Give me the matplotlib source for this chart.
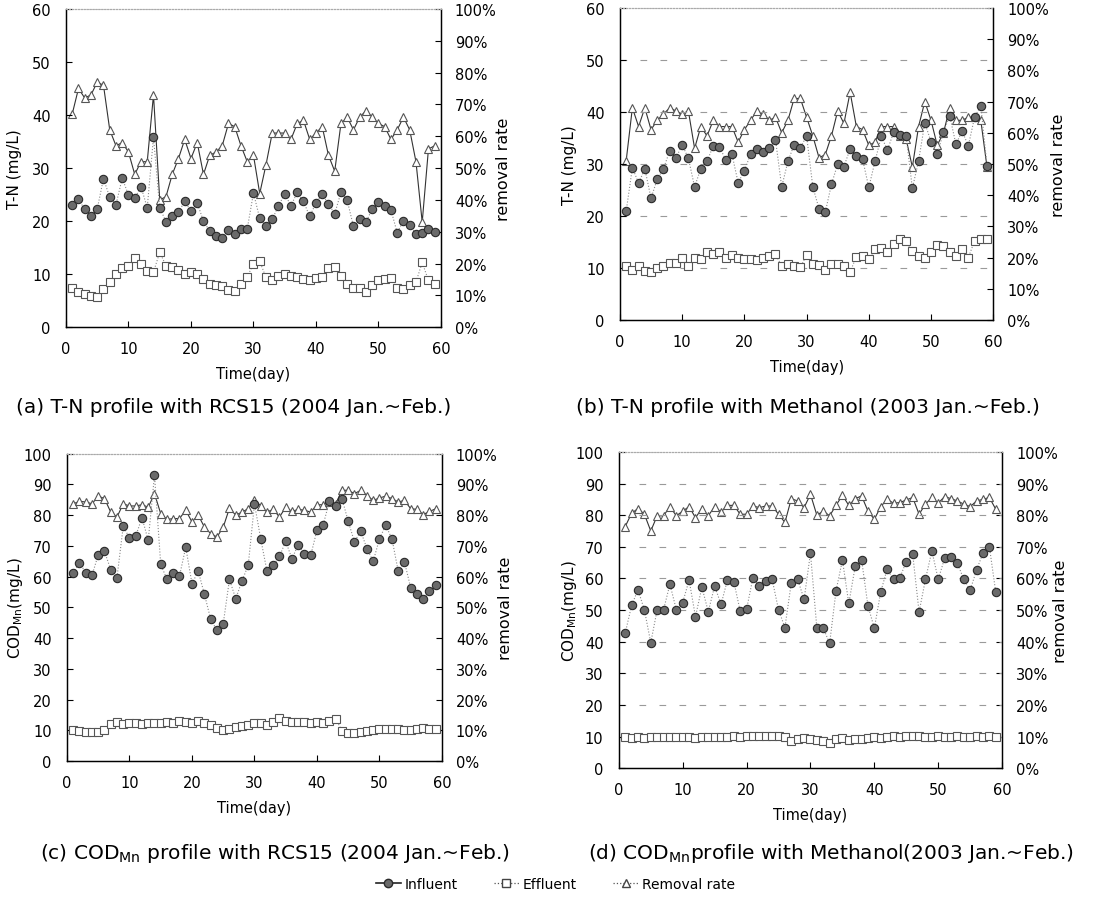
import numpy as np
import matplotlib.pyplot as plt
from matplotlib.lines import Line2D
from matplotlib.ticker import FuncFormatter

plt.rcParams['font.family'] = ['DejaVu Sans']
plt.rcParams['mathtext.fontset'] = 'dejavusans'

days = np.arange(1, 60)

# (a) T-N, RCS15
tn_rcs_inf = [23.0, 24.1, 22.2, 21.0, 22.3, 28.0, 24.5, 23.1, 28.1, 24.9,
              24.3, 26.5, 22.5, 35.8, 22.5, 19.9, 21.0, 21.7, 23.7, 21.9,
              23.4, 20.0, 18.1, 17.1, 16.8, 18.4, 17.5, 18.5, 18.5, 25.3,
              20.5, 19.0, 20.3, 22.9, 25.1, 22.9, 25.4, 23.7, 20.9, 23.4,
              25.1, 23.2, 21.4, 25.4, 23.9, 19.0, 20.3, 19.8, 22.3, 23.6,
              22.8, 22.1, 17.8, 20.1, 19.3, 17.6, 17.7, 18.5, 17.9]
tn_rcs_eff = [7.3, 6.6, 6.3, 5.8, 5.6, 7.2, 8.5, 10.0, 11.1, 11.6,
              13.0, 11.9, 10.5, 10.4, 14.1, 11.6, 11.3, 10.7, 10.1, 10.4,
              10.1, 9.1, 8.2, 8.0, 7.7, 7.0, 6.9, 8.2, 9.5, 11.9,
              12.4, 9.4, 8.8, 9.6, 10.1, 9.7, 9.4, 9.1, 8.9, 9.2,
              9.4, 11.1, 11.3, 9.6, 8.2, 7.3, 7.3, 6.6, 7.9, 8.8,
              9.1, 9.2, 7.3, 7.1, 7.9, 8.5, 12.2, 8.8, 8.2]
tn_rcs_rem = [67, 75, 72, 73, 77, 76, 62, 57, 58, 55,
              48, 52, 52, 73, 40, 41, 48, 53, 59, 53,
              58, 48, 54, 55, 57, 64, 63, 57, 52, 54,
              42, 51, 61, 61, 61, 59, 64, 65, 59, 61,
              63, 54, 49, 64, 66, 62, 66, 68, 66, 64,
              63, 59, 62, 66, 62, 52, 33, 56, 57]

# (b) T-N, Methanol
tn_met_inf = [20.9, 29.3, 26.3, 29.1, 23.4, 27.1, 29.1, 32.5, 31.1, 33.7,
              31.1, 25.6, 29.1, 30.5, 33.5, 33.3, 30.8, 31.9, 26.4, 28.7,
              31.9, 32.9, 32.3, 33.0, 34.7, 25.6, 30.5, 33.7, 33.1, 35.4,
              25.6, 21.4, 20.7, 26.1, 30.0, 29.5, 32.9, 31.5, 30.9, 25.5,
              30.5, 35.3, 32.7, 36.1, 35.6, 35.4, 25.3, 30.6, 37.9, 34.3,
              31.9, 36.1, 39.3, 33.8, 36.3, 33.5, 39.0, 41.2, 29.7]
tn_met_eff = [10.4, 9.6, 10.3, 9.4, 9.2, 9.9, 10.4, 10.9, 10.9, 11.9,
              10.4, 11.9, 11.7, 13.0, 12.6, 13.0, 12.0, 12.5, 12.0, 11.8,
              11.8, 11.6, 11.9, 12.3, 12.6, 10.4, 10.7, 10.4, 10.1, 12.5,
              10.7, 10.5, 9.6, 10.7, 10.7, 10.4, 9.2, 12.2, 12.3, 11.7,
              13.6, 13.9, 13.0, 14.6, 15.5, 15.1, 13.2, 12.3, 12.0, 13.0,
              14.4, 14.2, 13.1, 12.3, 13.7, 12.0, 15.2, 15.5, 15.5]
tn_met_rem = [51, 68, 62, 68, 61, 64, 66, 68, 67, 66,
              67, 55, 62, 59, 64, 62, 62, 62, 57, 61,
              64, 67, 66, 64, 65, 60, 64, 71, 71, 65,
              59, 52, 53, 59, 67, 63, 73, 62, 61, 56,
              57, 62, 62, 62, 59, 58, 49, 62, 70, 64,
              56, 60, 68, 64, 64, 65, 65, 64, 49]

# (c) COD_Mn, RCS15
cod_rcs_inf = [61.3, 64.5, 61.3, 60.4, 67.1, 68.2, 62.3, 59.7, 76.4, 72.6,
               73.2, 79.2, 71.8, 93.0, 64.0, 59.1, 61.2, 60.2, 69.6, 57.7,
               61.8, 54.2, 46.1, 42.5, 44.7, 59.1, 52.8, 58.6, 63.7, 83.7,
               72.3, 61.8, 63.7, 66.6, 71.5, 65.8, 70.4, 67.5, 66.9, 75.1,
               76.9, 84.6, 83.0, 85.4, 78.0, 71.3, 74.8, 69.1, 65.0, 72.3,
               76.7, 72.3, 61.8, 64.8, 56.4, 54.4, 52.8, 55.3, 57.2]
cod_rcs_eff = [10.0, 9.8, 9.4, 9.4, 9.4, 10.0, 12.1, 12.7, 12.1, 12.5,
               12.5, 12.1, 12.5, 12.5, 12.5, 12.7, 12.5, 12.9, 12.7, 12.5,
               12.9, 12.4, 11.6, 10.7, 10.0, 10.5, 11.1, 11.4, 11.6, 12.5,
               12.5, 11.6, 12.7, 14.0, 13.2, 12.7, 12.7, 12.7, 12.5, 12.7,
               12.5, 13.2, 13.8, 9.8, 9.2, 9.2, 9.4, 9.8, 10.0, 10.3,
               10.5, 10.5, 10.3, 10.0, 10.0, 10.3, 10.7, 10.5, 10.3]
cod_rcs_rem = [83.7, 84.5, 84.3, 83.7, 86.2, 85.4, 81.0, 79.4, 83.7, 83.0,
               83.0, 83.4, 82.6, 87.0, 80.5, 78.6, 78.9, 78.9, 81.6, 77.8,
               80.0, 76.1, 74.0, 72.9, 76.1, 82.3, 80.0, 81.0, 82.1, 85.1,
               83.0, 81.0, 81.9, 79.4, 82.6, 81.2, 81.9, 81.6, 81.0, 83.4,
               83.4, 84.3, 83.7, 88.1, 88.1, 87.0, 88.1, 86.4, 84.8, 85.6,
               86.2, 85.4, 84.3, 84.8, 82.1, 81.9, 80.2, 81.2, 82.1]

# (d) COD_Mn, Methanol
cod_met_inf = [42.7, 51.5, 56.4, 50.1, 39.7, 50.1, 50.1, 58.2, 50.1, 52.4,
               59.5, 47.9, 57.3, 49.5, 57.6, 51.8, 59.5, 59.0, 49.7, 50.3,
               60.3, 57.6, 59.2, 59.7, 50.1, 44.5, 58.7, 59.7, 53.4, 68.0,
               44.3, 44.3, 39.5, 56.1, 65.8, 52.1, 63.8, 65.9, 51.3, 44.3,
               55.8, 62.9, 59.7, 60.3, 65.3, 67.7, 49.4, 59.7, 68.7, 59.7,
               66.4, 66.9, 64.8, 59.7, 56.3, 62.7, 68.0, 70.1, 55.7]
cod_met_eff = [10.0, 9.7, 9.8, 9.7, 9.8, 9.9, 9.8, 9.9, 10.0, 10.0,
               9.8, 9.7, 9.9, 9.8, 10.0, 9.8, 10.0, 10.1, 10.0, 10.2,
               10.1, 10.2, 10.1, 10.2, 10.2, 9.8, 8.5, 9.2, 9.7, 9.3,
               9.0, 8.6, 8.0, 9.2, 9.5, 9.0, 9.4, 9.3, 9.5, 9.8,
               9.6, 10.0, 10.1, 10.0, 10.1, 10.2, 10.3, 10.0, 9.8, 10.1,
               9.9, 10.0, 10.2, 9.9, 10.0, 10.2, 10.0, 10.1, 10.0]
cod_met_rem = [76.4, 80.6, 82.1, 80.3, 75.0, 79.8, 79.8, 82.7, 79.8, 81.3,
               82.7, 79.2, 82.1, 79.8, 82.7, 81.0, 83.1, 83.1, 80.3, 80.3,
               82.9, 82.4, 82.9, 82.9, 80.3, 77.7, 85.2, 84.5, 82.4, 86.6,
               80.0, 81.3, 79.8, 83.1, 86.3, 83.1, 85.2, 86.1, 81.3, 78.7,
               82.7, 85.0, 83.8, 84.0, 84.8, 85.6, 80.3, 83.5, 85.6, 83.8,
               85.9, 85.2, 84.5, 83.5, 82.7, 84.5, 85.0, 85.6, 81.9]

INF_STYLE = dict(color='#8a8a8a', lw=0.8, ls=':', marker='o', ms=6,
                 mfc='#6a6a6a', mec='#2a2a2a', mew=0.8)
EFF_STYLE = dict(color='#8a8a8a', lw=0.8, ls=':', marker='s', ms=5.5,
                 mfc='white', mec='#555555', mew=0.8)
REM_STYLE = dict(color='#333333', lw=0.8, ls='-', marker='^', ms=6,
                 mfc='white', mec='#555555', mew=0.8)


def panneau(rect, inf, eff, rem, ymax, ylabel, caption, cap_xy, lab_x, grille=False):
    ax = fig.add_axes(rect)
    ax2 = ax.twinx()
    ax.set_zorder(ax2.get_zorder() + 1)
    ax.patch.set_visible(False)

    ax2.plot(days, rem, **REM_STYLE)
    ax.plot(days, inf, **INF_STYLE)
    ax.plot(days, eff, **EFF_STYLE)

    ax.set_xlim(0, 60)
    ax.set_ylim(0, ymax)
    ax.set_xticks(range(0, 61, 10))
    ax.set_yticks(range(0, ymax + 1, 10))
    ax2.set_ylim(0, 100)
    ax2.set_yticks(range(0, 101, 10))
    ax2.yaxis.set_major_formatter(FuncFormatter(lambda v, p: f'{v:.0f}%'))

    if grille:
        for v in range(10, ymax, 10):
            ax.axhline(v, color='#9a9a9a', lw=0.8, ls=(0, (6, 12)), zorder=0)

    for a in (ax, ax2):
        a.tick_params(direction='in', length=4, labelsize=10.5, width=0.8)
        a.spines['top'].set_linestyle(':')
        a.spines['top'].set_color('#aaaaaa')
        for s in ('left', 'right', 'bottom'):
            a.spines[s].set_linewidth(0.9)
    ax.tick_params(axis='x', pad=10)
    ax.tick_params(axis='y', pad=11)
    ax2.tick_params(axis='y', pad=10)

    ax.set_xlabel('Time(day)', fontsize=10.5, labelpad=7)
    ax.set_ylabel(ylabel, fontsize=11)
    ax2.set_ylabel('removal rate', fontsize=11.5)
    # position des titres d'axes (bord interne du texte)
    ax.yaxis.set_label_coords(lab_x[0], 0.5)
    ax2.yaxis.set_label_coords(lab_x[1], 0.5)

    fig.text(cap_xy[0], cap_xy[1], caption, fontsize=14.5, ha='center', va='center')
    return ax


fig = plt.figure(figsize=(11.11, 9.04), dpi=100)

panneau([0.0594, 0.637, 0.3375, 0.352], tn_rcs_inf, tn_rcs_eff, tn_rcs_rem, 60,
        'T-N (mg/L)', '(a) T-N profile with RCS15 (2004 Jan.~Feb.)',
        (0.210, 0.549), (-0.117, 1.147))
panneau([0.558, 0.645, 0.336, 0.345], tn_met_inf, tn_met_eff, tn_met_rem, 60,
        'T-N (mg/L)', '(b) T-N profile with Methanol (2003 Jan.~Feb.)',
        (0.727, 0.549), (-0.115, 1.155), grille=True)
panneau([0.0603, 0.157, 0.3375, 0.340], cod_rcs_inf, cod_rcs_eff, cod_rcs_rem, 100,
        r'COD$_{\mathregular{Mn}}$(mg/L)',
        r'(c) COD$_{\mathregular{Mn}}$ profile with RCS15 (2004 Jan.~Feb.)',
        (0.248, 0.056), (-0.112, 1.149))
panneau([0.557, 0.149, 0.345, 0.350], cod_met_inf, cod_met_eff, cod_met_rem, 100,
        r'COD$_{\mathregular{Mn}}$(mg/L)',
        r'(d) COD$_{\mathregular{Mn}}$profile with Methanol(2003 Jan.~Feb.)',
        (0.748, 0.056), (-0.104, 1.133), grille=True)

handles = [
    Line2D([], [], color='#222222', lw=1.2, ls='-', marker='o', ms=6,
           mfc='#6a6a6a', mec='#2a2a2a'),
    Line2D([], [], color='#555555', lw=0.9, ls=':', marker='s', ms=6,
           mfc='white', mec='#444444'),
    Line2D([], [], color='#555555', lw=0.9, ls=':', marker='^', ms=6,
           mfc='white', mec='#444444'),
]
fig.legend(handles, ['Influent', 'Effluent', 'Removal rate'], loc='center',
           bbox_to_anchor=(0.5, 0.021), ncol=3, frameon=False, fontsize=10,
           handlelength=1.8, columnspacing=2.6, handletextpad=0.3)

fig.savefig('out.png', dpi=100)
